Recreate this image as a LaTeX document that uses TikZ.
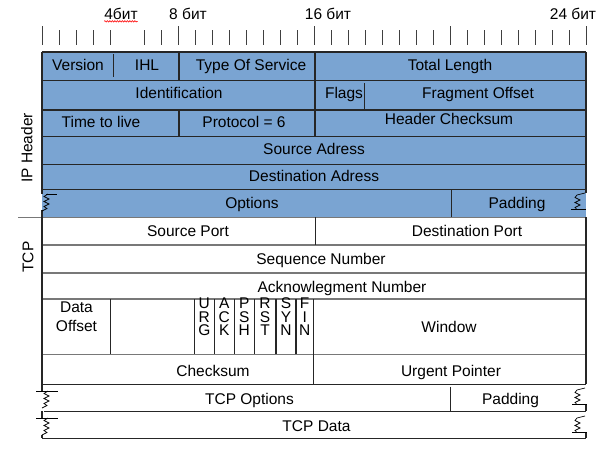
\documentclass[tikz,border=0pt]{standalone}
\usepackage{fontspec}
\setmainfont{Liberation Sans}
\usepackage{tikz}
\usetikzlibrary{decorations.pathmorphing}
\definecolor{ipblue}{RGB}{122,164,210}
\definecolor{tcpgray}{RGB}{120,120,120}

\begin{document}
\begin{tikzpicture}[%
	x=1pt, y=-1pt,
	fld/.style={font=\fontsize{15.5}{19}\selectfont, inner sep=0pt, text height=10.7pt, text depth=0pt, align=center},
	bits/.style={fld, font=\fontsize{15.5}{13.5}\selectfont},
	sidelbl/.style={fld, rotate=90},
	rulertick/.style={line width=0.8pt, black!75},
	bord/.style={line width=1.1pt, black!85},
	tline/.style={line width=1.5pt, tcpgray},
	brk/.style={line width=0.7pt, black},
	lbrk/.pic={\draw[brk] (6,0) -- (2,2.5) -- (7,5) -- (2,7.5) -- (7,10) -- (2,12.5) -- (5,14.5) -- (0,17);},
	rbrk/.pic={\draw[brk] (0,0) -- (-8,2) -- (-10,4.5) -- (-5,7) -- (-10,9.5) -- (-5,12) -- (-10,14.5) -- (-8,16.5);}
	]
	\useasboundingbox (0,0) rectangle (612,461);
	
	% ruler
	\foreach \b in {0,8,...,32}
		\draw[rulertick] (42+\b*17,26) -- (42+\b*17,45);
	\foreach \b in {1,2,3,4,6,7,9,10,...,15,17,18,...,23,25,26,...,31}
		\draw[rulertick] (42+\b*17,30) -- (42+\b*17,45);
	
	\node[fld] (b4) at (121,14) {4бит};
	\node[fld] (b8) at (188,14) {8 бит};
	\node[fld] (b16) at (328,14) {16 бит};
	\node[fld] (b24) at (573,14) {24 бит};
	\draw[red, line width=0.6pt, decorate, decoration={snake, amplitude=0.7pt, segment length=2.5pt}]
		([yshift=-1.8pt]b4.south west) -- ([yshift=-1.8pt]b4.south east);
	
	% IP header
	\fill[ipblue] (42,52) rectangle (586,217.3);
	\foreach \y in {52,80.5,110,136.7,164.3,189.3}
		\draw[bord] (42,\y) -- (586,\y);
	\draw[bord] (113.7,54) -- (113.7,77)
		(179,52) -- (179,80.5)
		(315,52) -- (315,136.7)
		(364.3,83) -- (364.3,109)
		(179,110) -- (179,136.7)
		(451.7,189.3) -- (451.7,217.3);
	
	% TCP
	\draw[tline] (18,217.3) -- (586,217.3);
	\foreach \y in {245,273,299,354.3}
		\draw[tline] (42,\y) -- (586,\y);
	\draw[bord] (42,384.3) -- (586,384.3)
		(44,411.3) -- (586,411.3)
		(42,438.3) -- (586,438.3);
	\draw[bord] (315.7,217.3) -- (315.7,245);
	\foreach \x in {110.7,194.3,214.3,234.3,254.3,276,296,313.3}
		\draw[bord] (\x,299) -- (\x,354.3);
	\draw[bord] (313.3,354.3) -- (313.3,384.3)
		(450.7,386.7) -- (450.7,410.7);
	
	% outer edges and breaks
	\draw[bord] (42,52) -- (42,194)
		(42,210) -- (42,391)
		(42,411.3) -- (42,418)
		(42,435) -- (42,438.3);
	\draw[bord] (586,52) -- (586,193)
		(586,217.3) -- (586,384.3)
		(586,404.5) -- (586,411.3)
		(586,432.5) -- (586,438.3);
	\draw[brk] (46,194) -- (57,194)
		(36,391) -- (58,391)
		(36,418) -- (58,418)
		(571,209.5) -- (586,209.5)
		(572,404.5) -- (587,404.5)
		(572,432.5) -- (587,432.5);
	\pic at (42,194) {lbrk};
	\pic at (42,391) {lbrk};
	\pic at (42,418) {lbrk};
	\pic at (585,193) {rbrk};
	\pic at (585,388) {rbrk};
	\pic at (585,416) {rbrk};
	
	\node[sidelbl] (ip) at (27,148) {IP Header};
	\node[sidelbl] (tcp) at (28,257) {TCP};
	
	\node[fld] (ver) at (78,65) {Version};
	\node[fld] (ihl) at (147,65) {IHL};
	\node[fld] (tos) at (251,65) {Type Of Service};
	\node[fld] (tlen) at (450,65) {Total Length};
	
	\node[fld] (ident) at (179,93) {Identification};
	\node[fld] (flags) at (344,93) {Flags};
	\node[fld] (frag) at (478,93) {Fragment Offset};
	
	\node[fld] (ttl) at (101,122.5) {Time to live};
	\node[fld] (proto) at (244,122.5) {Protocol = 6};
	\node[fld] (hcs) at (449,119.5) {Header Checksum};
	
	\node[fld] (src) at (314,149) {Source Adress};
	\node[fld] (dst) at (314,176.5) {Destination Adress};
	\node[fld] (opt) at (252,203) {Options};
	\node[fld] (pad) at (517,203) {Padding};
	
	\node[fld] (sport) at (188,231) {Source Port};
	\node[fld] (dport) at (467,231) {Destination Port};
	\node[fld] (seq) at (321,259.5) {Sequence Number};
	\node[fld] (ack) at (342,287) {Acknowlegment Number};
	
	\node[fld] (doff) at (76.5,326.5) {Data\\Offset};
	\node[bits] (urg) at (204.3,330.5) {U\\R\\G};
	\node[bits] (ackf) at (224.3,330.5) {A\\C\\K};
	\node[bits] (psh) at (244.3,330.5) {P\\S\\H};
	\node[bits] (rst) at (265,330.5) {R\\S\\T};
	\node[bits] (syn) at (286,330.5) {S\\Y\\N};
	\node[bits] (fin) at (304.7,330.5) {F\\I\\N};
	\node[fld] (win) at (449,327) {Window};
	
	\node[fld] (csum) at (213,370.8) {Checksum};
	\node[fld] (urgp) at (451,371) {Urgent Pointer};
	\node[fld] (topt) at (249.5,398.8) {TCP Options};
	\node[fld] (tpad) at (510.5,398.8) {Padding};
	\node[fld] (tdata) at (316.5,426) {TCP Data};
\end{tikzpicture}
\end{document}
